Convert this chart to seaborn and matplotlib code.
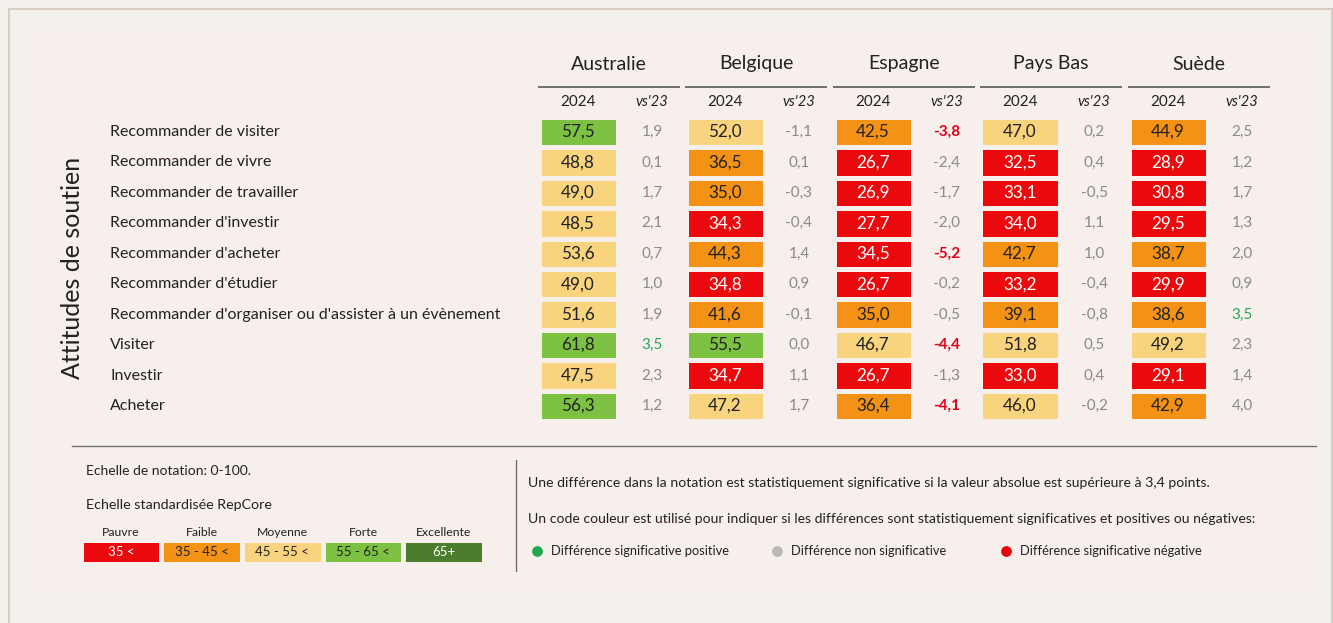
import numpy as np
import pandas as pd
import matplotlib
matplotlib.use("Agg")
import matplotlib.pyplot as plt
from matplotlib.colors import ListedColormap, BoundaryNorm
from matplotlib.patches import Rectangle
import seaborn as sns

# ---------------- data ----------------
countries = ["Australie", "Belgique", "Espagne", "Pays Bas", "Suède"]
attributes = [
    "Recommander de visiter",
    "Recommander de vivre",
    "Recommander de travailler",
    "Recommander d'investir",
    "Recommander d'acheter",
    "Recommander d'étudier",
    "Recommander d'organiser ou d'assister à un évènement",
    "Visiter",
    "Investir",
    "Acheter",
]
aus_2024 = [57.5, 48.8, 49.0, 48.5, 53.6, 49.0, 51.6, 61.8, 47.5, 56.3]
bel_2024 = [52.0, 36.5, 35.0, 34.3, 44.3, 34.8, 41.6, 55.5, 34.7, 47.2]
esp_2024 = [42.5, 26.7, 26.9, 27.7, 34.5, 26.7, 35.0, 46.7, 26.7, 36.4]
nld_2024 = [47.0, 32.5, 33.1, 34.0, 42.7, 33.2, 39.1, 51.8, 33.0, 46.0]
swe_2024 = [44.9, 28.9, 30.8, 29.5, 38.7, 29.9, 38.6, 49.2, 29.1, 42.9]

aus_vs23 = [1.9, 0.1, 1.7, 2.1, 0.7, 1.0, 1.9, 3.5, 2.3, 1.2]
bel_vs23 = [-1.1, 0.1, -0.3, -0.4, 1.4, 0.9, -0.1, 0.0, 1.1, 1.7]
esp_vs23 = [-3.8, -2.4, -1.7, -2.0, -5.2, -0.2, -0.5, -4.4, -1.3, -4.1]
nld_vs23 = [0.2, 0.4, -0.5, 1.1, 1.0, -0.4, -0.8, 0.5, 0.4, -0.2]
swe_vs23 = [2.5, 1.2, 1.7, 1.3, 2.0, 0.9, 3.5, 2.3, 1.4, 4.0]

# significance flags as shown in the chart (1 positive, -1 negative, 0 not significant)
aus_sig = [0, 0, 0, 0, 0, 0, 0, 1, 0, 0]
bel_sig = [0, 0, 0, 0, 0, 0, 0, 0, 0, 0]
esp_sig = [-1, 0, 0, 0, -1, 0, 0, -1, 0, -1]
nld_sig = [0, 0, 0, 0, 0, 0, 0, 0, 0, 0]
swe_sig = [0, 0, 0, 0, 0, 0, 1, 0, 0, 0]

scale_names = ["Pauvre", "Faible", "Moyenne", "Forte", "Excellente"]
scale_labels = ["35 <", "35 - 45 <", "45 - 55 <", "55 - 65 <", "65+"]
scale_bounds = [0, 35, 45, 55, 65, 100]

scores = [aus_2024, bel_2024, esp_2024, nld_2024, swe_2024]
diffs = [aus_vs23, bel_vs23, esp_vs23, nld_vs23, swe_vs23]
sigs = [aus_sig, bel_sig, esp_sig, nld_sig, swe_sig]

# ---------------- style ----------------
FONT = "Lato"
plt.rcParams["font.family"] = [FONT, "DejaVu Sans"]
OUTER_BG = "#f3efeb"
PANEL_BG = "#f7efec"
TXT = "#222222"
GRAY = "#8a8a8a"
POS = "#2aa55a"
NEG = "#e3001b"
bin_colors = ["#ea0a0e", "#f39214", "#f8d47f", "#7dc143", "#4b7d2d"]
cmap = ListedColormap(bin_colors)
norm = BoundaryNorm(scale_bounds, cmap.N)

W, H = 1333, 623
fig = plt.figure(figsize=(W / 100, H / 100), dpi=100)
fig.patch.set_facecolor(OUTER_BG)


def px_axes(x0, y0, x1, y1):
    return fig.add_axes([x0 / W, 1 - y1 / H, (x1 - x0) / W, (y1 - y0) / H])


bg = fig.add_axes([0, 0, 1, 1])
bg.set_xlim(0, W)
bg.set_ylim(H, 0)
bg.axis("off")
bg.add_patch(Rectangle((8.5, 8.5), 1323, H, facecolor=OUTER_BG, edgecolor="#d6ccc0", lw=1.5))
bg.add_patch(Rectangle((32, 27), 1283, 568, facecolor=PANEL_BG, edgecolor="none"))

fmt = lambda v: f"{v:.1f}".replace(".", ",")

# layout (pixels)
box_cx = [578, 725, 873, 1020, 1168]
box_w = 79
row_top, row_bot = 116.8, 421.2
row_h = (row_bot - row_top) / len(attributes)

for i, c in enumerate(countries):
    cx = box_cx[i]
    ax = px_axes(cx - box_w / 2, row_top, cx + box_w / 2, row_bot)
    df = pd.DataFrame({"2024": scores[i]}, index=attributes)
    labels = np.array([[fmt(v)] for v in scores[i]])
    sns.heatmap(df, ax=ax, cmap=cmap, norm=norm, cbar=False, annot=labels, fmt="",
                linewidths=2.3, linecolor=PANEL_BG, xticklabels=False, yticklabels=False,
                annot_kws=dict(fontsize=12.3, family=FONT))
    ax.set_xlabel("")
    ax.set_ylabel("")
    ax.patch.set_alpha(0)
    for t, v in zip(ax.texts, scores[i]):
        t.set_color("white" if v < 35 else TXT)

    # headers
    bg.text(cx + 31, 64, c, ha="center", va="center", fontsize=14, color=TXT)
    bg.plot([cx - 40, cx + 102], [86.5, 86.5], color="#6e6e6e", lw=1.4, solid_capstyle="butt")
    bg.text(cx, 102, "2024", ha="center", va="center", fontsize=11, color=TXT)
    vx = cx + 74
    bg.text(vx, 102, "vs'23", ha="center", va="center", fontsize=10.5, color=TXT, style="italic")

    # vs'23 values
    for r, (d, s) in enumerate(zip(diffs[i], sigs[i])):
        y = row_top + (r + 0.5) * row_h
        col = POS if s > 0 else (NEG if s < 0 else GRAY)
        bg.text(vx, y, fmt(d), ha="center", va="center", fontsize=11, color=col,
                fontweight="bold" if s < 0 else "normal")

# row labels
for r, a in enumerate(attributes):
    y = row_top + (r + 0.5) * row_h
    bg.text(110, y, a, ha="left", va="center", fontsize=11.5, color=TXT)

bg.text(72, 268, "Attitudes de soutien", rotation=90, ha="center", va="center",
        fontsize=18, color=TXT)

# separators
bg.plot([72, 1316], [446, 446], color="#707070", lw=1.0)
bg.plot([516, 516], [460, 571], color="#707070", lw=1.0)

# left legend
bg.text(86, 471, "Echelle de notation: 0-100.", ha="left", va="center", fontsize=10, color=TXT)
bg.text(86, 505, "Echelle standardisée RepCore", ha="left", va="center", fontsize=10.3, color=TXT)
lax = px_axes(80.5, 540, 484, 564)
sdf = pd.DataFrame([np.arange(len(scale_names))], columns=scale_names)
sns.heatmap(sdf, ax=lax, cmap=cmap, vmin=-0.5, vmax=len(scale_names) - 0.5, cbar=False,
            annot=np.array([scale_labels]), fmt="", linewidths=2.5, linecolor=PANEL_BG,
            xticklabels=False, yticklabels=False, annot_kws=dict(fontsize=9.5, family=FONT))
lax.set_xlabel("")
lax.set_ylabel("")
lax.patch.set_alpha(0)
for k, t in enumerate(lax.texts):
    t.set_color("white" if k in (0, 4) else TXT)
seg = (484 - 80.5) / len(scale_names)
for k, n in enumerate(scale_names):
    bg.text(80.5 + seg * (k + 0.5), 532, n, ha="center", va="center", fontsize=8.8, color=TXT)

# right legend
bg.text(528, 483, "Une différence dans la notation est statistiquement significative si la valeur absolue est supérieure à 3,4 points.",
        ha="left", va="center", fontsize=10.1, color=TXT)
bg.text(528, 519, "Un code couleur est utilisé pour indiquer si les différences sont statistiquement significatives et positives ou négatives:",
        ha="left", va="center", fontsize=10.1, color=TXT)
items = [(537, "#1fa84f", "Différence significative positive"),
         (777, "#b8b8b8", "Différence non significative"),
         (1006, "#e8000b", "Différence significative négative")]
for x, col, lab in items:
    bg.scatter([x], [551], s=45, color=col, zorder=3)
    bg.text(x + 14, 551, lab, ha="left", va="center", fontsize=9.3, color=TXT)

fig.savefig("out.png", dpi=100, facecolor=fig.get_facecolor())
